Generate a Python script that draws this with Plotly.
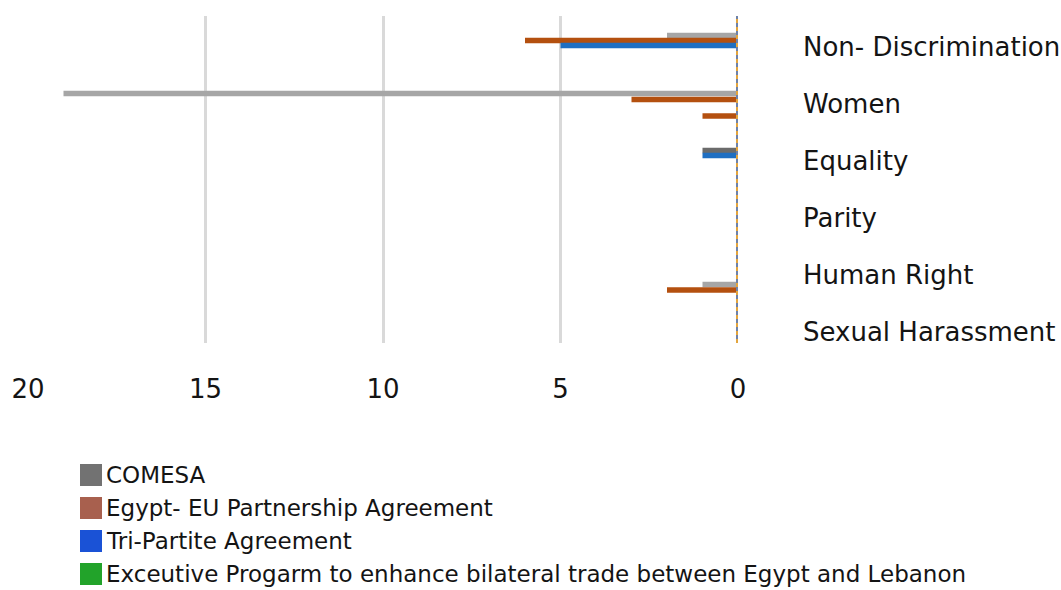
import plotly.graph_objects as go

# ---- data -------------------------------------------------------------
categories = [
    "Non- Discrimination",
    "Women",
    "Equality",
    "Parity",
    "Human Right",
    "Sexual Harassment",
]
comesa = [2, 19, 1, 0, 1, 0]
egypt_eu = [6, 3, 0, 0, 2, 0]
egypt_eu_second = [0, 1, 0, 0, 0, 0]
tri_partite = [5, 0, 1, 0, 0, 0]
executive_program = [0, 0, 0, 0, 0, 0]
x_ticks = [20, 15, 10, 5, 0]

legend_names = [
    "COMESA",
    "Egypt- EU Partnership Agreement",
    "Tri-Partite Agreement",
    "Exceutive Progarm to enhance bilateral trade between Egypt and Lebanon",
]

# ---- styling ----------------------------------------------------------
FONT = "DejaVu Sans"
TEXT = "#141414"
W, H = 1061, 590
PLOT_L, PLOT_R, PLOT_T, PLOT_B = 28, 738, 16, 343
BAND = 57.0          # pixels per category row
FIRST_ROW = 47.0     # pixel centre of the first row
BAR_PX = 5.5
BAR_W = BAR_PX / BAND


def offs(centres):
    """Bar offsets (in category units) from pixel shifts of each bar centre."""
    return [c / BAND - BAR_W / 2 for c in centres]


fig = go.Figure()

fig.add_trace(go.Bar(
    name=legend_names[0], y=categories, x=comesa, orientation="h",
    width=BAR_W, offset=offs([-11.5, -10.5, -10.5, -10, 9.5, -10]),
    marker=dict(color=["#a6a6a6", "#a6a6a6", "#6b6b6b", "#a6a6a6", "#a6a6a6", "#a6a6a6"],
                line=dict(width=0)),
    showlegend=False,
))
fig.add_trace(go.Bar(
    name=legend_names[1], y=categories, x=egypt_eu, orientation="h",
    width=BAR_W, offset=offs([-6.5, -4.5, -5, -5, 15, -5]),
    marker=dict(color="#b4500f", line=dict(width=0)),
    showlegend=False,
))
fig.add_trace(go.Bar(
    name=legend_names[1], y=categories, x=egypt_eu_second, orientation="h",
    width=BAR_W, offset=offs([12, 12, 12, 12, 12, 12]),
    marker=dict(color="#b4500f", line=dict(width=0)),
    showlegend=False,
))
fig.add_trace(go.Bar(
    name=legend_names[2], y=categories, x=tri_partite, orientation="h",
    width=BAR_W, offset=offs([-1.5, 0, -5.5, 0, 0, 0]),
    marker=dict(color="#1f6fc2", line=dict(width=0)),
    showlegend=False,
))
fig.add_trace(go.Bar(
    name=legend_names[3], y=categories, x=executive_program, orientation="h",
    width=BAR_W, offset=offs([3.5, 3.5, 3.5, 3.5, 3.5, 3.5]),
    marker=dict(color="#70ad47", line=dict(width=0)),
    showlegend=False,
))

# multicoloured baseline at zero
fig.add_shape(type="line", xref="x", yref="paper", x0=0, x1=0, y0=0, y1=1,
              line=dict(color="#6f82a8", width=4), layer="above")
fig.add_shape(type="line", xref="x", yref="paper", x0=0, x1=0, y0=0, y1=1,
              line=dict(color="#e3a53e", width=4, dash="dot"), layer="above")

# legend drawn below the axis
plot_w = PLOT_R - PLOT_L
plot_h = PLOT_B - PLOT_T


def px_x(p):
    return (p - PLOT_L) / plot_w


def px_y(p):
    return (PLOT_B - p) / plot_h


swatch_colors = ["#727272", "#a8604e", "#1a52d6", "#22a32a"]
rows_y = [475, 508, 541, 574]
for name, col, cy in zip(legend_names, swatch_colors, rows_y):
    fig.add_shape(type="rect", xref="paper", yref="paper",
                  x0=px_x(80), x1=px_x(102), y0=px_y(cy + 11), y1=px_y(cy - 11),
                  fillcolor=col, line=dict(width=0))
    fig.add_annotation(xref="paper", yref="paper", x=px_x(104), y=px_y(cy),
                       text=name, showarrow=False, xanchor="left", yanchor="middle",
                       font=dict(family=FONT, size=23, color=TEXT))

y_top = (PLOT_T - FIRST_ROW) / BAND
y_bot = (PLOT_B - FIRST_ROW) / BAND

fig.update_layout(
    width=W, height=H,
    margin=dict(l=PLOT_L, r=W - PLOT_R, t=PLOT_T, b=H - PLOT_B, pad=0),
    paper_bgcolor="white", plot_bgcolor="white",
    barmode="overlay",
    showlegend=False,
    font=dict(family=FONT, color=TEXT),
    xaxis=dict(
        range=[20, 0], tickvals=x_ticks, ticktext=[str(v) for v in x_ticks],
        showgrid=True, gridcolor="#d9d9d9", gridwidth=2.5,
        zeroline=False, showline=False, ticks="", automargin=False,
        ticklabelstandoff=28,
        tickfont=dict(family=FONT, size=26, color=TEXT),
    ),
    yaxis=dict(
        type="category", categoryorder="array", categoryarray=categories,
        range=[y_bot, y_top], side="right", automargin=False,
        showgrid=False, zeroline=False, showline=False, ticks="",
        ticklabelstandoff=64,
        tickfont=dict(family=FONT, size=26, color=TEXT),
    ),
)

fig.write_html("out.html")
